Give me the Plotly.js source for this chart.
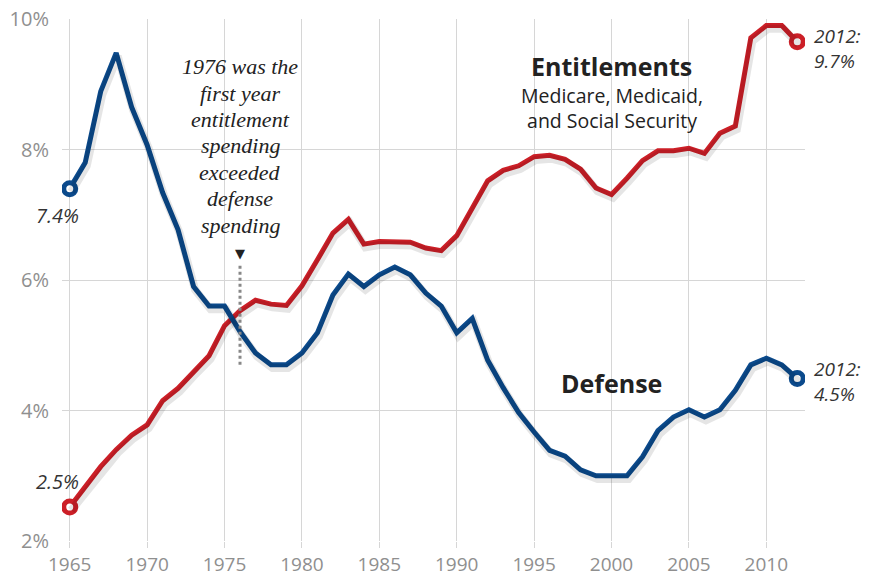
<!DOCTYPE html>
<html>
<head>
<meta charset="utf-8">
<script src="https://cdn.plot.ly/plotly-3.0.1.min.js"></script>
<style>html,body{margin:0;padding:0;background:#fff;}#chart{width:879px;height:577px;}</style>
</head>
<body>
<div id="chart"></div>
<script>
const years = [1965,1966,1967,1968,1969,1970,1971,1972,1973,1974,1975,1976,1977,1978,1979,1980,1981,1982,1983,1984,1985,1986,1987,1988,1989,1990,1991,1992,1993,1994,1995,1996,1997,1998,1999,2000,2001,2002,2003,2004,2005,2006,2007,2008,2009,2010,2011,2012];
const defense = [7.4,7.8,8.89,9.48,8.65,8.07,7.34,6.77,5.9,5.6,5.6,5.21,4.88,4.7,4.7,4.88,5.19,5.77,6.09,5.9,6.08,6.2,6.08,5.8,5.6,5.19,5.41,4.77,4.35,3.97,3.67,3.39,3.3,3.09,3.0,3.0,3.0,3.29,3.69,3.9,4.01,3.9,4.01,4.31,4.7,4.8,4.7,4.49];
const entitlements = [2.52,2.83,3.14,3.4,3.62,3.78,4.15,4.34,4.6,4.84,5.3,5.53,5.69,5.63,5.61,5.91,6.31,6.72,6.93,6.55,6.59,6.59,6.58,6.49,6.45,6.68,7.09,7.52,7.68,7.75,7.89,7.91,7.85,7.7,7.41,7.31,7.56,7.83,7.98,7.98,8.02,7.94,8.25,8.36,9.71,9.9,9.9,9.65];
const yTicks = [2,4,6,8,10];
const yTickText = ['2%','4%','6%','8%','10%'];
const xTicks = [1965,1970,1975,1980,1985,1990,1995,2000,2005,2010];
const crossYear = 1976;
const noteLines = ['1976 was the','first year','entitlement','spending','exceeded','defense','spending'];

const BLUE = '#0b4a8c';
const RED = '#cc1f27';
const last = years.length - 1;
const ends = a => [a[0], a[last]];

const XR = [1964.5, 2012.5], YR = [2, 10];
const sdx = 0.1, sdy = 0.05; // shadow offset in data units

const traces = [
  {x: years, y: entitlements, xaxis:'x2', yaxis:'y2', type:'scatter', mode:'lines',
   line:{color:'rgba(0,0,0,0.10)', width:8}, hoverinfo:'skip'},
  {x: years, y: defense, xaxis:'x2', yaxis:'y2', type:'scatter', mode:'lines',
   line:{color:'rgba(0,0,0,0.10)', width:8}, hoverinfo:'skip'},
  {x: years, y: entitlements, type:'scatter', mode:'lines', line:{color:RED, width:5}, hoverinfo:'skip'},
  {x: years, y: defense, type:'scatter', mode:'lines', line:{color:BLUE, width:5}, hoverinfo:'skip'},
  {x: ends(years), y: ends(entitlements), type:'scatter', mode:'markers',
   marker:{size:12, color:'#ffffff', opacity:1, line:{color:RED, width:5}}, hoverinfo:'skip'},
  {x: ends(years), y: ends(defense), type:'scatter', mode:'markers',
   marker:{size:12, color:'#ffffff', opacity:1, line:{color:BLUE, width:5}}, hoverinfo:'skip'}
];

const sans = '"Open Sans", Lato, sans-serif';
const serif = '"Liberation Serif", "DejaVu Serif", serif';

const annotations = [];
noteLines.forEach((t, i) => {
  annotations.push({x: crossYear, y: 9.27 - i*0.405, xref:'x', yref:'y', showarrow:false, text:t,
    font:{family:serif, size:22, color:'#222', style:'italic'}});
});
annotations.push(
  {x: crossYear, y: 6.4, xref:'x', yref:'y', showarrow:false, text:'▼', font:{family:'DejaVu Sans', size:13, color:'#222'}},
  {x: 2000, y: 9.28, xref:'x', yref:'y', showarrow:false, text:'<b>Entitlements</b>',
   font:{family:sans, size:25, color:'#222'}},
  {x: 2000, y: 8.64, xref:'x', yref:'y', showarrow:false, text:'Medicare, Medicaid,<br>and Social Security',
   font:{family:sans, size:19.5, color:'#222'}},
  {x: 2000, y: 4.42, xref:'x', yref:'y', showarrow:false, text:'<b>Defense</b>',
   font:{family:sans, size:25, color:'#222'}},
  {x: years[last], y: entitlements[last], xref:'x', yref:'y', showarrow:false, xanchor:'left', xshift:15, yshift:-7,
   text:'2012:<br>9.7%', align:'left', font:{family:sans, size:19, color:'#333', style:'italic'}},
  {x: years[last], y: defense[last], xref:'x', yref:'y', showarrow:false, xanchor:'left', xshift:15, yshift:-3,
   text:'2012:<br>4.5%', align:'left', font:{family:sans, size:19, color:'#333', style:'italic'}},
  {x: years[0], y: defense[0], xref:'x', yref:'y', showarrow:false, xshift:-12, yshift:-27,
   text:'7.4%', font:{family:sans, size:20, color:'#333', style:'italic'}},
  {x: years[0], y: entitlements[0], xref:'x', yref:'y', showarrow:false, xshift:-12, yshift:26,
   text:'2.5%', font:{family:sans, size:20, color:'#333', style:'italic'}}
);

const shapes = [
  {type:'line', xref:'x', yref:'y', x0:crossYear, x1:crossYear, y0:4.7, y1:6.26,
   line:{color:'#888', width:3, dash:'dot'}, layer:'above'}
];

const layout = {
  width:879, height:577,
  margin:{l:62, r:74, t:19, b:36},
  paper_bgcolor:'#fff', plot_bgcolor:'#fff',
  showlegend:false,
  xaxis:{range:XR, tickvals:xTicks, ticktext:xTicks.map(String),
    showgrid:true, gridcolor:'#d6d6d6', gridwidth:1, zeroline:false, showline:false,
    ticks:'outside', ticklen:6, tickcolor:'#d6d6d6', tickwidth:1,
    tickfont:{family:sans, size:19, color:'#8f8f8f'}, fixedrange:true},
  yaxis:{range:YR, tickvals:yTicks, ticktext:yTickText,
    showgrid:true, gridcolor:'#d6d6d6', gridwidth:1, zeroline:false, showline:false,
    ticks:'outside', ticklen:8, tickcolor:'rgba(0,0,0,0)',
    tickfont:{family:sans, size:20, color:'#8f8f8f'}, fixedrange:true},
  xaxis2:{overlaying:'x', range:[XR[0]-sdx, XR[1]-sdx], visible:false, fixedrange:true},
  yaxis2:{overlaying:'y', range:[YR[0]+sdy, YR[1]+sdy], visible:false, fixedrange:true},
  annotations: annotations,
  shapes: shapes
};

Plotly.newPlot('chart', traces, layout, {displayModeBar:false, staticPlot:true});
</script>
</body>
</html>
